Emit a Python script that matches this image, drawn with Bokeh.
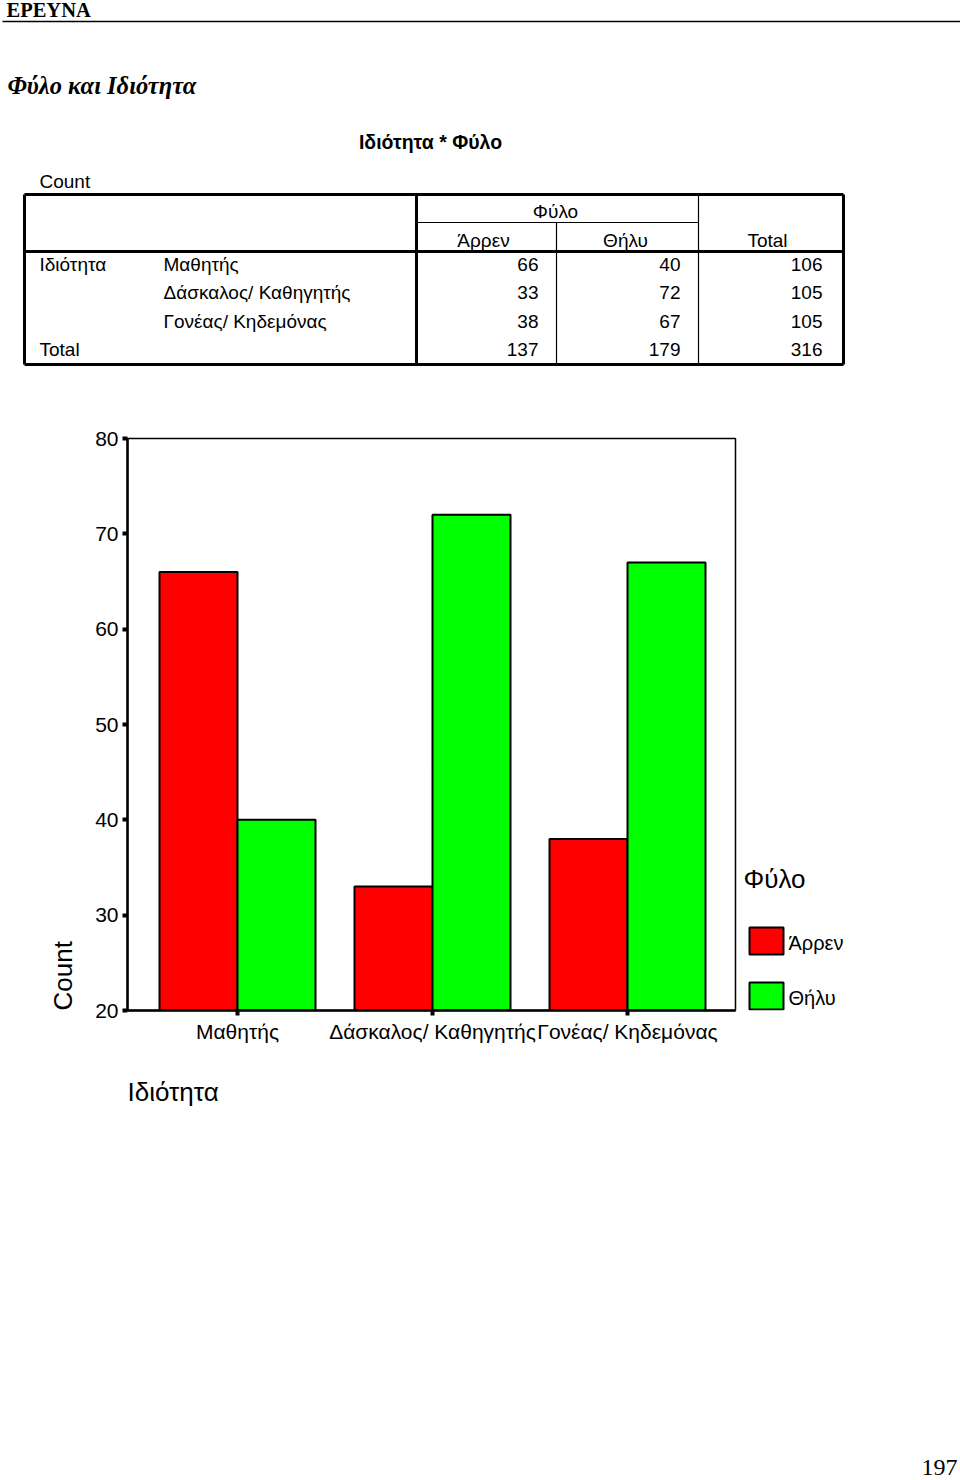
from bokeh.plotting import figure
from bokeh.models import Range1d, FixedTicker, Title
from bokeh.layouts import column, row
from bokeh.embed import file_html
from bokeh.resources import INLINE
from bokeh.core.properties import value

# ---------------- data ----------------
categories = ["Μαθητής", "Δάσκαλος/ Καθηγητής", "Γονέας/ Κηδεμόνας"]
series_names = ["Άρρεν", "Θήλυ"]
male = [66, 33, 38]
female = [40, 72, 67]
row_totals = [106, 105, 105]
col_totals = [137, 179, 316]
y_ticks = [20, 30, 40, 50, 60, 70, 80]
series_colors = ["#ff0000", "#00ff00"]
row_group = ["Ιδιότητα", "", "", "Total"]
header_title = "Ιδιότητα * Φύλο"
var_name = "Φύλο"

SANS = "Liberation Sans"
SERIF = "Liberation Serif"


def blank(width, height, y_top, y_bottom, x0=0, x1=960, **kw):
    p = figure(width=width, height=height, x_range=Range1d(x0, x1),
               y_range=Range1d(y_bottom, y_top), x_axis_type=None, y_axis_type=None,
               toolbar_location=None, output_backend="svg", **kw)
    p.outline_line_color = None
    p.background_fill_color = "white"
    p.border_fill_color = "white"
    p.xgrid.visible = False
    p.ygrid.visible = False
    return p


def txt(p, x, y, s, size, font=SANS, style="normal", align="left"):
    p.text(x=[x], y=[y], text=[s], text_font=value(font), text_font_size=size,
           text_font_style=style, text_align=align, text_baseline="middle",
           text_color="black")


# ---------------- top: header + table ----------------
TOP_H = 425
top = blank(960, TOP_H, 0, TOP_H, min_border=0)
txt(top, 6, 9, "ΕΡΕΥΝΑ", "20.5px", SERIF, "bold")
top.segment(x0=[2], y0=[21], x1=[960], y1=[21], line_color="black", line_width=1.5)
txt(top, 7, 85, "Φύλο και Ιδιότητα", "24.5px", SERIF, "bold italic")
txt(top, 430, 141, header_title, "19.5px", SANS, "bold", "center")
txt(top, 39, 181, "Count", "19px")

# table lines
thick_x0 = [24, 24, 24, 843, 416, 24]
thick_y0 = [194, 364, 194, 194, 194, 251]
thick_x1 = [843, 843, 24, 843, 416, 843]
thick_y1 = [194, 364, 364, 364, 364, 251]
top.segment(x0=thick_x0, y0=thick_y0, x1=thick_x1, y1=thick_y1,
            line_color="black", line_width=3)
top.segment(x0=[416, 556, 698], y0=[222, 222, 194], x1=[698, 556, 698], y1=[222, 364, 364],
            line_color="black", line_width=1.2)

txt(top, 555, 211, var_name, "19px", align="center")
col_centers = [483, 625, 767]
for cx, name in zip(col_centers, series_names + ["Total"]):
    txt(top, cx, 240, name, "19px", align="center")

row_y = [264, 292, 321, 349]
for i, y in enumerate(row_y):
    if row_group[i]:
        txt(top, 39, y, row_group[i], "19px")
    if i < 3:
        txt(top, 163, y, categories[i], "19px")
        vals = [male[i], female[i], row_totals[i]]
    else:
        vals = col_totals
    for xr, v in zip([538, 680, 822], vals):
        txt(top, xr, y, str(v), "19px", align="right")

# ---------------- chart ----------------
CH_H = 720
ch = figure(width=740, height=CH_H,
            x_range=Range1d(-110 / 195, 2 + 108 / 195), y_range=Range1d(y_ticks[0], y_ticks[-1]),
            toolbar_location=None, output_backend="svg",
            min_border_left=127, min_border_right=5, min_border_top=13, min_border_bottom=135)
ch.background_fill_color = "white"
ch.border_fill_color = "white"
ch.outline_line_color = "black"
ch.outline_line_width = 1.5
ch.xgrid.visible = False
ch.ygrid.visible = False

xs = list(range(len(categories)))
bw = 0.4
ch.vbar(x=[x - bw / 2 for x in xs], top=male, bottom=y_ticks[0], width=bw,
        fill_color=series_colors[0], line_color="black", line_width=2)
ch.vbar(x=[x + bw / 2 for x in xs], top=female, bottom=y_ticks[0], width=bw,
        fill_color=series_colors[1], line_color="black", line_width=2)

ch.yaxis.ticker = FixedTicker(ticks=y_ticks)
ch.xaxis.ticker = FixedTicker(ticks=xs)
ch.xaxis.major_label_overrides = {i: c for i, c in zip(xs, categories)}
for ax in (ch.xaxis, ch.yaxis):
    ax.axis_line_color = "black"
    ax.axis_line_width = 2.5
    ax.major_tick_line_color = "black"
    ax.major_tick_line_width = 4
    ax.major_tick_out = 5
    ax.major_tick_in = 0
    ax.minor_tick_line_color = None
    ax.major_label_text_font = SANS
    ax.major_label_text_font_size = "21px"
    ax.major_label_text_color = "black"
    ax.major_label_standoff = 4

ch.add_layout(Title(text="Count", align="left", text_font=SANS, text_font_size="26px",
                    text_font_style="normal", text_color="black", standoff=29), "left")
ch.add_layout(Title(text="Ιδιότητα", align="left", text_font=SANS, text_font_size="26px",
                    text_font_style="normal", text_color="black", standoff=58), "below")

# ---------------- legend (frame aligned with the chart frame: page y 438..1010) ----------------
lg = blank(220, CH_H, 438, 1010, 740, 960,
           min_border_left=0, min_border_right=0, min_border_top=13, min_border_bottom=135)
txt(lg, 743, 878, var_name, "26px")
sw_top = [927, 982]
lg.quad(left=749, right=783, top=sw_top, bottom=[t + 27 for t in sw_top],
        fill_color=series_colors, line_color="black", line_width=2)
for t, name in zip(sw_top, series_names):
    txt(lg, 788, t + 15, name, "20px")

# ---------------- bottom ----------------
BOT_H = 1480 - TOP_H - CH_H
bot = blank(960, BOT_H, TOP_H + CH_H, 1480, min_border=0)
txt(bot, 957, 1467, "197", "24px", SERIF, "normal", "right")

layout = column(top, row(ch, lg), bot)
open("out.html", "w").write(file_html(layout, INLINE))
